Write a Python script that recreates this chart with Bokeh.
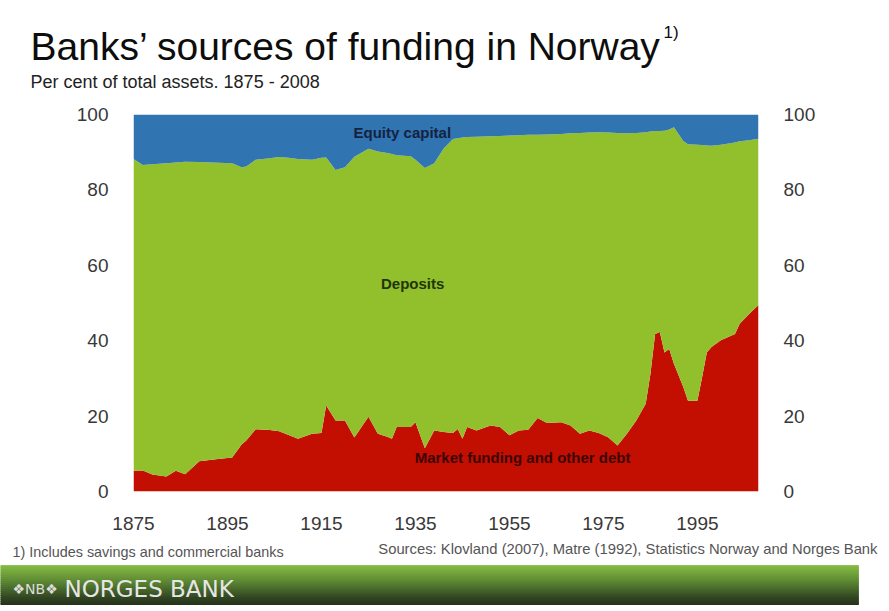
from bokeh.plotting import figure
from bokeh.models import ColumnDataSource, Label, LinearAxis, Range1d, FixedTicker
from bokeh.layouts import column
from bokeh.embed import file_html
from bokeh.resources import INLINE

# ---------------- data (per cent of total assets) ----------------
years = [1875, 1877, 1879, 1882, 1884, 1886, 1889, 1893, 1896, 1898, 1899, 1901, 1904, 1906,
         1908, 1910, 1913, 1915, 1916, 1918, 1920, 1922, 1925, 1927, 1929, 1930, 1931, 1934,
         1935, 1937, 1939, 1941, 1943, 1944, 1945, 1946, 1948, 1951, 1953, 1955, 1957, 1959,
         1961, 1963, 1966, 1968, 1970, 1972, 1974, 1976, 1978, 1980, 1982, 1984, 1985, 1986,
         1987, 1988, 1989, 1990, 1992, 1993, 1995, 1996, 1997, 1998, 2000, 2003, 2004, 2006, 2008]

market_funding = [5.5, 5.6, 4.5, 4.0, 5.5, 4.6, 8.0, 8.6, 9.0, 12.5, 13.5, 16.5, 16.3, 16.0,
                  15.0, 14.0, 15.3, 15.5, 22.8, 18.8, 18.8, 14.3, 19.8, 15.3, 14.5, 14.0, 17.1, 17.1,
                  18.4, 11.5, 16.2, 15.8, 15.5, 16.6, 14.0, 17.1, 16.2, 17.5, 17.1, 14.9, 16.2, 16.4,
                  19.5, 18.2, 18.4, 17.5, 15.3, 16.2, 15.5, 14.4, 12.2, 15.3, 18.8, 23.3, 31.2, 41.8,
                  42.3, 36.9, 37.8, 33.9, 27.7, 24.1, 24.1, 30.3, 36.9, 38.3, 40.1, 41.8, 44.5, 47.1, 49.5]

deposits = [82.7, 81.0, 82.3, 83.1, 81.8, 82.9, 79.4, 78.6, 78.1, 73.5, 72.7, 71.5, 72.1, 72.7,
            73.5, 74.2, 72.7, 73.0, 65.8, 66.5, 67.2, 74.5, 71.1, 74.9, 75.3, 75.5, 72.1, 71.8,
            69.6, 74.3, 70.9, 75.2, 78.0, 77.1, 79.9, 76.9, 77.9, 76.7, 77.2, 79.5, 78.3, 78.2,
            75.1, 76.5, 76.4, 77.5, 79.8, 79.0, 79.8, 80.8, 82.9, 79.7, 76.3, 72.0, 64.3, 53.8,
            53.3, 58.8, 58.2, 62.7, 65.3, 68.0, 67.9, 61.6, 54.9, 53.4, 51.9, 50.8, 48.4, 46.1, 44.1]

equity_capital = [11.8, 13.4, 13.2, 12.9, 12.7, 12.5, 12.6, 12.8, 12.9, 14.0, 13.8, 12.0, 11.6, 11.3,
                  11.5, 11.8, 12.0, 11.5, 11.4, 14.7, 14.0, 11.2, 9.1, 9.8, 10.2, 10.5, 10.8, 11.1,
                  12.0, 14.2, 12.9, 9.0, 6.5, 6.3, 6.1, 6.0, 5.9, 5.8, 5.7, 5.6, 5.5, 5.4,
                  5.4, 5.3, 5.2, 5.0, 4.9, 4.8, 4.7, 4.8, 4.9, 5.0, 4.9, 4.7, 4.5, 4.4,
                  4.4, 4.3, 4.0, 3.4, 7.0, 7.9, 8.0, 8.1, 8.2, 8.3, 8.0, 7.4, 7.1, 6.8, 6.4]

series_names = ["Market funding and other debt", "Deposits", "Equity capital"]
x_tick_values = [1875, 1895, 1915, 1935, 1955, 1975, 1995]
y_tick_values = [0, 20, 40, 60, 80, 100]

title_text = "Banks\u2019 sources of funding in Norway"
subtitle_text = "Per cent of total assets. 1875 - 2008"
footnote_text = "1)  Includes savings and commercial banks"
sources_text = "Sources: Klovland (2007), Matre (1992), Statistics Norway and Norges Bank"

# ---------------- styles ----------------
FONT = "Liberation Sans"
RED, GREEN, BLUE = "#c20f02", "#92bf2c", "#3074b2"
W = 880


def blank(height):
    fig = figure(width=W, height=height, x_range=Range1d(0, W), y_range=Range1d(0, height),
                 output_backend="svg", toolbar_location=None, min_border=0,
                 x_axis_location=None, y_axis_location=None)
    fig.outline_line_color = None
    fig.grid.visible = False
    fig.frame_align = False
    return fig


# ---------------- header (titles) ----------------
HEAD_H = 98
head = blank(HEAD_H)
head.add_layout(Label(x=30, y=HEAD_H - 46, text=title_text, text_font=FONT,
                      text_font_size="39px", text_color="#0d0d0d", text_baseline="alphabetic"))
head.add_layout(Label(x=663, y=HEAD_H - 22, text="1)", text_font=FONT, text_font_size="17px",
                      text_color="#0d0d0d", text_baseline="top"))
head.add_layout(Label(x=30, y=HEAD_H - 81, text=subtitle_text, text_font=FONT,
                      text_font_size="18px", text_color="#222222", text_baseline="alphabetic"))

# ---------------- main chart ----------------
source = ColumnDataSource(dict(year=years, market=market_funding,
                               deposits=deposits, equity=equity_capital))

p = figure(width=W, height=439, x_range=Range1d(1875, 2008), y_range=Range1d(0, 100),
           output_backend="svg", toolbar_location=None,
           min_border_left=133, min_border_right=W - 758, min_border_top=16, min_border_bottom=46,
           background_fill_color="white", border_fill_color="white")
p.outline_line_color = None
p.grid.visible = False
p.frame_align = False

p.varea_stack(["market", "deposits", "equity"], x="year", source=source,
              color=[RED, GREEN, BLUE])

p.add_layout(LinearAxis(), "right")
p.xaxis.ticker = FixedTicker(ticks=x_tick_values)
p.yaxis.ticker = FixedTicker(ticks=y_tick_values)
for ax in p.axis:
    ax.axis_line_color = None
    ax.major_tick_line_color = None
    ax.minor_tick_line_color = None
    ax.major_label_text_font = FONT
    ax.major_label_text_font_size = "19px"
    ax.major_label_text_color = "#383838"
    ax.major_label_standoff = 19

label_style = dict(text_font=FONT, text_font_size="15px", text_font_style="bold",
                   text_align="center", text_baseline="middle")
p.add_layout(Label(x=1932.2, y=95.2, text=series_names[2], text_color="#14233f", **label_style))
p.add_layout(Label(x=1934.4, y=55.2, text=series_names[1], text_color="#1f3608", **label_style))
p.add_layout(Label(x=1957.8, y=9.0, text=series_names[0], text_color="#3e0602", **label_style))

# ---------------- footer (notes + bank bar) ----------------
FOOT_H = 68
foot = blank(FOOT_H)
foot.add_layout(Label(x=12, y=FOOT_H - 14, text=footnote_text, text_font=FONT,
                      text_font_size="14.4px", text_color="#555555", text_baseline="middle"))
foot.add_layout(Label(x=877, y=FOOT_H - 11, text=sources_text, text_font=FONT,
                      text_font_size="14.8px", text_color="#555555", text_align="right",
                      text_baseline="middle"))

stops = [(0.0, (134, 190, 68)), (0.35, (92, 136, 50)), (0.7, (50, 70, 34)), (1.0, (26, 30, 22))]


def grad(t):
    for (t0, c0), (t1, c1) in zip(stops[:-1], stops[1:]):
        if t <= t1:
            k = (t - t0) / (t1 - t0)
            return "#%02x%02x%02x" % tuple(int(a + (b - a) * k) for a, b in zip(c0, c1))
    return "#%02x%02x%02x" % stops[-1][1]


BAR_TOP = 40
n = 20
bottoms = [BAR_TOP - 2 * (i + 1) for i in range(n)]
tops = [BAR_TOP - 2 * i for i in range(n)]
colors = [grad((2 * i + 1) / 46.0) for i in range(n)]
foot.quad(left=0, right=858, bottom=bottoms, top=tops, fill_color=colors,
          line_color=colors, line_width=0.8)

foot.add_layout(Label(x=12, y=17, text="\u2756NB\u2756", text_font="DejaVu Sans",
                      text_font_size="14px", text_color="#dcdcdc", text_baseline="middle"))
foot.add_layout(Label(x=64, y=17, text="NORGES BANK", text_font="DejaVu Sans",
                      text_font_size="23px", text_color="#e6e6e6", text_baseline="middle"))

layout = column(head, p, foot, spacing=0)
open("out.html", "w").write(file_html(layout, INLINE))
